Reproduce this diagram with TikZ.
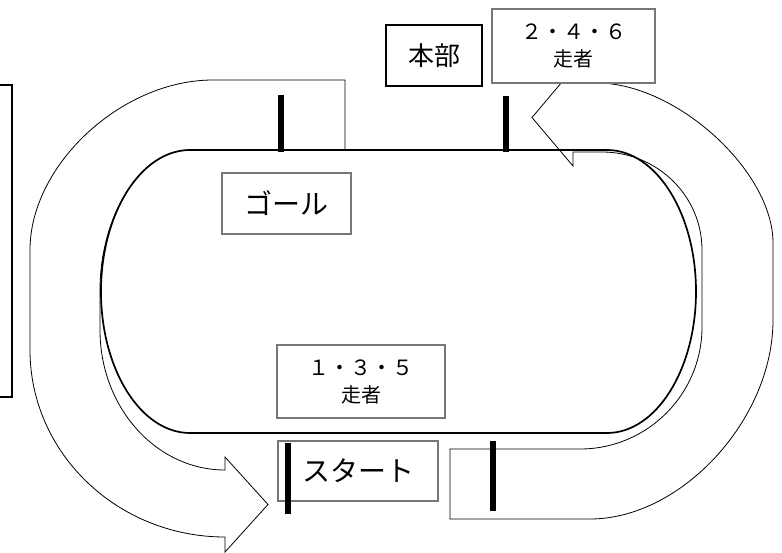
\documentclass[tikz,border=0pt]{standalone}
\usepackage{fontspec}
\setmainfont{Noto Sans CJK JP}
\definecolor{boxgrey}{RGB}{118,118,118}

\tikzset{
  track/.style={black, line width=1.7pt},
  uturn/.style={draw=black, fill=white, line width=0.8pt},
  pole/.style={black, line width=5.5pt},
  greybox/.style={draw=boxgrey, fill=white, line width=1.6pt, inner sep=0pt},
  blackbox/.style={draw=black, fill=white, line width=1.4pt, inner sep=0pt},
  bigtext/.style={font=\fontsize{28pt}{30pt}\selectfont},
  runtext/.style={align=center, font=\fontsize{21pt}{27pt}\selectfont}
}

\begin{document}
\begin{tikzpicture}[x=1pt,y=-1pt]
\useasboundingbox (0,0) rectangle (782,553);

% right u-turn arrow
\draw[uturn] (450,519) -- (590,519) .. controls (681.5,519) and (773,419.5) .. (773,320) -- (773,243)
  .. controls (773,171) and (676.2,83) .. (597,83) -- (573,83) -- (573,69) -- (532,117.5) -- (573,166) -- (573,152)
  -- (602,152) .. controls (657.2,152) and (702,195.9) .. (702,250) -- (702,327)
  .. controls (702,394.3) and (647.3,449) .. (580,449) -- (450,449) -- cycle;

% left u-turn arrow
\draw[uturn] (345,80) -- (345,150) -- (190,150) .. controls (140,150) and (100,217) .. (100,290) -- (100,330)
  .. controls (100,407.3) and (156,470) .. (225,470) -- (225,457) -- (268,504.5) -- (225,552) -- (225,537)
  .. controls (117.4,537) and (30,453.2) .. (30,350) -- (30,250)
  .. controls (30,165) and (121.5,80) .. (213,80) -- cycle;

% track
\draw[track] (190,150) -- (607,150) .. controls (656.1,150) and (696,213.4) .. (696,291.5)
  .. controls (696,369.6) and (656.1,433) .. (607,433) -- (190,433)
  .. controls (140.9,433) and (101,369.6) .. (101,291.5)
  .. controls (101,213.4) and (140.9,150) .. (190,150) -- cycle;

\node[blackbox, minimum width=17pt, minimum height=312pt] (frame) at (3.5,241) {};
\node[blackbox, minimum width=96pt, minimum height=61pt, font=\fontsize{26pt}{28pt}\selectfont] (hq) at (434,55.5) {本部};
\node[greybox, minimum width=163pt, minimum height=74pt, runtext] (even) at (573.5,46) {２・４・６\\{\fontsize{20pt}{27pt}\selectfont 走者}};
\node[greybox, minimum width=129pt, minimum height=61pt, bigtext] (goal) at (286.5,203.5) {ゴール};
\node[greybox, minimum width=168pt, minimum height=73pt, runtext] (odd) at (361,381.5) {１・３・５\\{\fontsize{20pt}{27pt}\selectfont 走者}};
\node[greybox, minimum width=160pt, minimum height=60pt, bigtext] (start) at (358,471) {スタート};

% poles
\draw[pole] (281,95) -- (281,152);
\draw[pole] (506,96) -- (506,152);
\draw[pole] (288,443) -- (288,514);
\draw[pole] (493,441) -- (493,511);

\end{tikzpicture}
\end{document}
